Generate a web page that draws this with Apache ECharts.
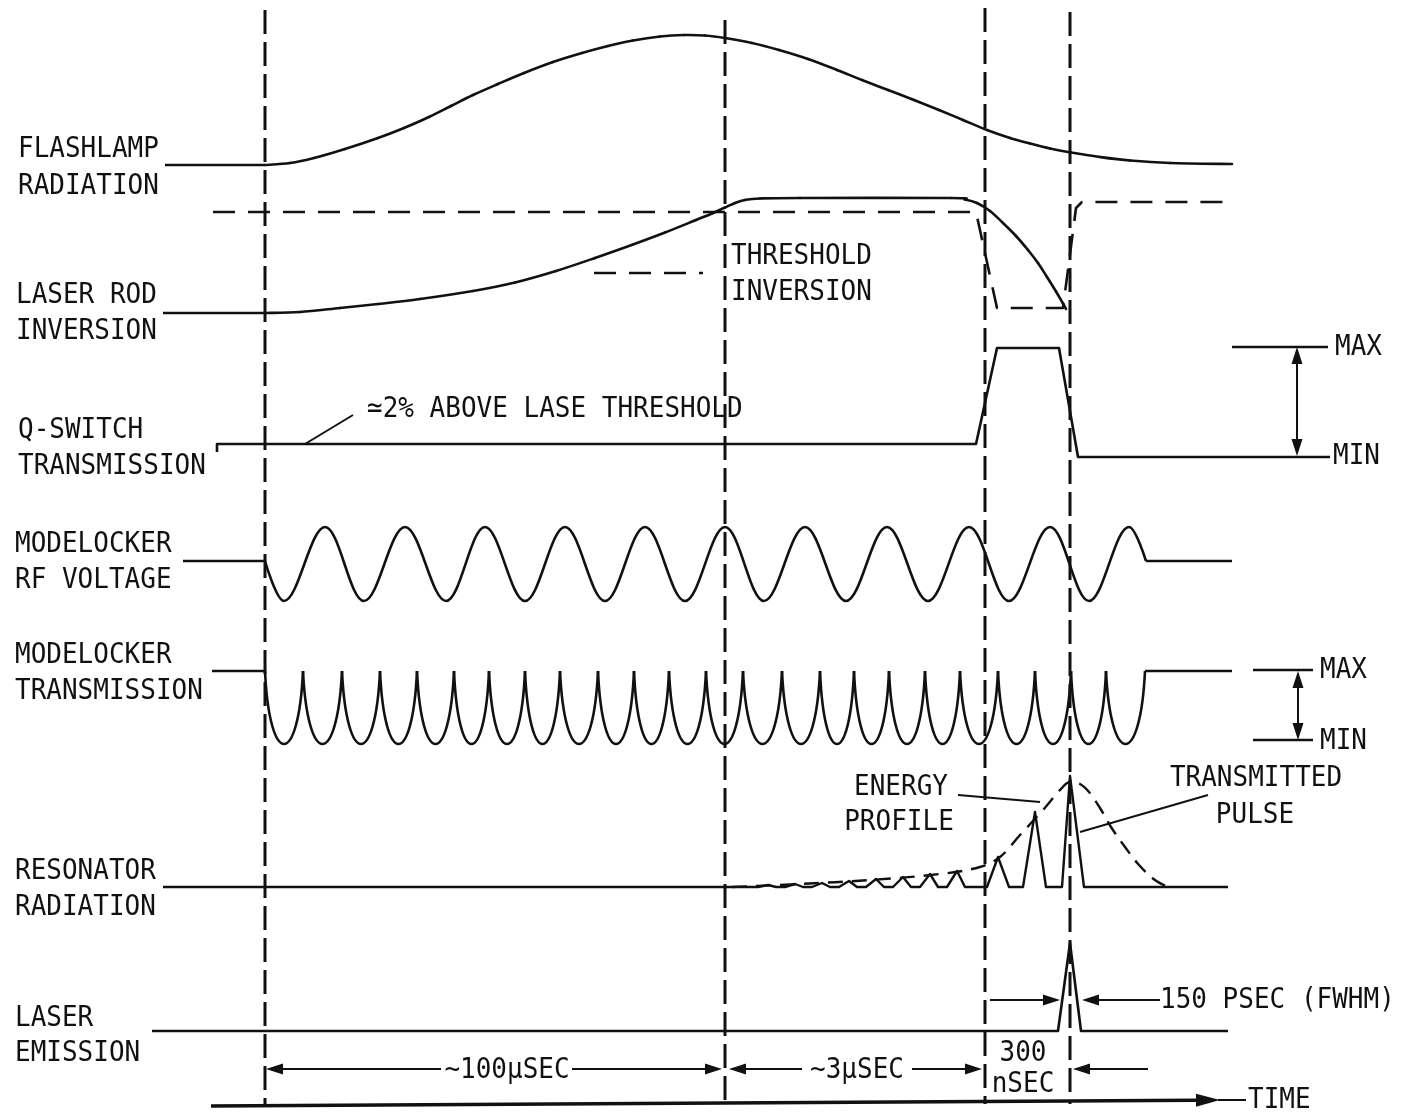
<!DOCTYPE html>
<html><head><meta charset="utf-8">
<script src="https://cdn.jsdelivr.net/npm/echarts/dist/echarts.min.js"></script>
<style>html,body{margin:0;padding:0;background:#fff}#c{width:1403px;height:1116px}</style>
</head><body><div id="c"></div>
<script>
// ===== DATA (diagram time position, signal level) =====
const markerTimes  = [265, 725, 985, 1070];
const markerTops   = [10, 20, 8, 12];
const markerBottom = 1104;

const flashlampBase = [[165,165],[265,165]];
const flashlamp = [[265,165],[290,163],[314,158],[345,149],[378,138],[404,128],[429,117],[451,106],[473,95],[498,84],[524,73],[553,62],[582,53],[608,46],[633,40.5],[660,36.5],[684,35],[705,35.5],[725,38],[752,43],[779,50],[808,59],[837,70],[862,80],[888,90],[914,100],[939,110],[963,120],[987,130],[1010,138],[1030,143.5],[1050,148.5],[1071,152.5],[1100,157],[1130,160.5],[1170,163],[1232,164]];
const laserRodBase = [[163,313],[265,313]];
const laserRod  = [[265,313],[300,312],[340,308],[378,304],[420,299],[473,291],[515,282.5],[556,271],[595,258],[633,244.5],[665,232.5],[696,220],[712,213.5],[725,207.5],[735,203],[745,200],[760,198.5],[800,198],[951,198],[965,199.5],[977,203],[990,211],[1003,223],[1016,236],[1028,250],[1038,263],[1047,277],[1056,291.5],[1063,303.5],[1066,309]];
const thresholdInversion = [[213,212],[976,212],[997,308],[1063,308],[1076,208],[1082,202],[1232,202]];
const thresholdLeader = [[594,273],[703,273]];

const qSwitch = [[217,452],[217,444],[976,444],[997,348],[1059,348],[1078,457],[1330,457]];
const qSwitchMax = [[1232,347],[1328,347]];
const qSwitchNoteLeader = [[305,444],[353,415]];

const rfBaseLeft  = [[183,561],[265,561]];
const rfBaseRight = [[1146,561],[1232,561]];
const rfStart = 265, rfEnd = 1146, rfZero = 561, rfPeak = 527, rfTrough = 601;
const rfTroughs = [284, 364, 446, 525, 605, 685, 764, 846, 928, 1009, 1089];
const rfPeaks   = [325, 405, 485, 565, 645, 725, 805, 887, 969, 1050, 1129];

const mlBaseLeft  = [[212,671],[265,671]];
const mlBaseRight = [[1145,671],[1232,671]];
const mlMax = 671, mlMin = 744;
const mlCusps = [265,303,342,380,417,454,489,525,560,598,634,669,706,743,782,820,854,889,925,960,998,1035,1071,1106,1145];
const mlMaxLine = [[1253,670],[1313,670]];
const mlMinLine = [[1253,740],[1313,740]];

const resonatorBase = 887;
const resonatorStart = 163, resonatorEnd = 1228;
const smallPulsePeaks = [[768,885],[795,884],[822,883],[849,881],[876,879],[903,877],[930,874],[957,871]];
const bigPulses = [[987,998,857,1009],[1023,1035,812,1046],[1062,1070,776,1084]]; // [start, peak time, peak level, end]
const energyProfile = [[732,887],[800,884],[870,880],[940,874],[980,867],[1000,857],[1020,835],[1043,810],[1060,790],[1070,782],[1080,784],[1089,792],[1100,808],[1111,827],[1125,847],[1139,865],[1155,880],[1168,887]];
const energyLeader = [[958,795],[1040,802]];
const transmittedLeader = [[1208,795],[1080,832]];

const laserEmission = [[152,1031],[1058,1031],[1070,943],[1081,1031],[1228,1031]];

// arrows: [fromX, fromY, toX, toY] (head at "to")
const arrows = [
  [441,1069,266,1069],[572,1069,722,1069],
  [802,1069,729,1069],[912,1069,982,1069],
  [1148,1069,1073,1069],
  [990,1000,1060,1000],[1160,1000,1082,1000],
  [1297,402,1297,347],[1297,402,1297,456],
  [1298,705,1298,671],[1298,705,1298,740]
];
const timeAxis = [211,1106,1220,1100];
const timeAxisTail = [[1218,1100],[1246,1100]];

const leftLabels = [
  [18,149,'FLASHLAMP'],[18,186,'RADIATION'],
  [16,295,'LASER ROD'],[16,331,'INVERSION'],
  [18,430,'Q-SWITCH'],[18,466,'TRANSMISSION'],
  [15,544,'MODELOCKER'],[15,580,'RF VOLTAGE'],
  [15,655,'MODELOCKER'],[15,691,'TRANSMISSION'],
  [15,871,'RESONATOR'],[15,907,'RADIATION'],
  [15,1018,'LASER'],[15,1053,'EMISSION'],
  [731,256,'THRESHOLD'],[731,292,'INVERSION'],
  [367,409,'≃2% ABOVE LASE THRESHOLD'],
  [1335,347,'MAX'],[1333,456,'MIN'],
  [1320,670,'MAX'],[1320,741,'MIN'],
  [1160,1000,'150 PSEC (FWHM)'],
  [1248,1100,'TIME']
];
const centerLabels = [
  [901,787,'ENERGY'],[899,822,'PROFILE'],
  [1256,778,'TRANSMITTED'],[1255,815,'PULSE'],
  [1023,1053,'300'],[1023,1084,'nSEC'],
  [507,1070,'~100μSEC'],[857,1070,'~3μSEC']
];

// ===== rendering =====
const INK = '#111';
const FONT_FAMILY = '"DejaVu Sans Mono", "Liberation Mono", monospace';

function poly(data, opt) {
  opt = opt || {};
  return {
    type: 'line', data: data, showSymbol: false, symbol: 'none', silent: true,
    smooth: opt.smooth || false, z: opt.z || 2, animation: false,
    lineStyle: { color: INK, width: opt.width || 2.6, type: opt.dash || 'solid', cap: 'butt', join: 'round' }
  };
}

// Catmull-Rom spline through the read points, drawn segment by segment
function spline(points, width) {
  return {
    type: 'custom', silent: true, z: 2, animation: false,
    data: points,
    renderItem: function (params, api) {
      const i = params.dataIndex;
      if (i >= points.length - 1) return null;
      const P = k => api.coord(points[Math.max(0, Math.min(points.length - 1, k))]);
      const p0 = P(i - 1), p1 = P(i), p2 = P(i + 1), p3 = P(i + 2);
      return { type: 'bezierCurve', shape: {
          x1: p1[0], y1: p1[1], x2: p2[0], y2: p2[1],
          cpx1: p1[0] + (p2[0] - p0[0]) / 6, cpy1: p1[1] + (p2[1] - p0[1]) / 6,
          cpx2: p2[0] - (p3[0] - p1[0]) / 6, cpy2: p2[1] - (p3[1] - p1[1]) / 6 },
        style: { stroke: INK, lineWidth: width || 2.6, fill: null, lineCap: 'round' } };
    }
  };
}

// RF wave: zero crossing, extremes, zero crossing
const rfWave = [[rfStart, rfZero]]
  .concat(rfTroughs.map(t => [t, rfTrough]))
  .concat(rfPeaks.map(t => [t, rfPeak]))
  .concat([[rfEnd, rfZero]])
  .sort((a, b) => a[0] - b[0]);

// resonator trace
const resonator = [[resonatorStart, resonatorBase]];
smallPulsePeaks.forEach(p => { resonator.push([p[0] - 10, resonatorBase], p, [p[0] + 8, resonatorBase]); });
bigPulses.forEach(p => { resonator.push([p[0], resonatorBase], [p[1], p[2]], [p[3], resonatorBase]); });
resonator.push([resonatorEnd, resonatorBase]);

const series = [];
markerTimes.forEach((t, i) => series.push(poly([[t, markerTops[i]], [t, markerBottom]], { dash: [24, 8], width: 3 })));
series.push(poly(flashlampBase));
series.push(spline(flashlamp));
series.push(poly(laserRodBase));
series.push(spline(laserRod));
series.push(poly(thresholdInversion, { dash: [22, 13], width: 2.6 }));
series.push(poly(thresholdLeader, { dash: [22, 13], width: 2.6 }));
series.push(poly(qSwitch));
series.push(poly(qSwitchMax));
series.push(poly(qSwitchNoteLeader, { width: 2 }));
series.push(poly(rfBaseLeft));
series.push(poly(rfBaseRight));
series.push(poly(rfWave, { smooth: 0.363 }));
series.push(poly(mlBaseLeft));
series.push(poly(mlBaseRight));
series.push(poly(mlMaxLine));
series.push(poly(mlMinLine));
series.push(poly(resonator, { width: 2.4 }));
series.push(poly(energyProfile, { smooth: 0.35, dash: [15, 9], width: 2.4 }));
series.push(poly(energyLeader, { width: 2 }));
series.push(poly(transmittedLeader, { width: 2 }));
series.push(poly(laserEmission));
series.push(poly(timeAxisTail, { width: 2 }));

// modelocker transmission arcs (U-shaped, cusp to cusp)
series.push({
  type: 'custom', silent: true, z: 3, animation: false,
  data: mlCusps.slice(0, -1).map((c, i) => [c, mlCusps[i + 1]]),
  renderItem: function (params, api) {
    const p0 = api.coord([api.value(0), mlMax]);
    const p1 = api.coord([api.value(1), mlMax]);
    const pb = api.coord([api.value(0), mlMin]);
    const w = p1[0] - p0[0], A = pb[1] - p0[1];
    return { type: 'bezierCurve', shape: {
        x1: p0[0], y1: p0[1], x2: p1[0], y2: p1[1],
        cpx1: p0[0] + 0.12 * w, cpy1: p0[1] + 1.333 * A,
        cpx2: p1[0] - 0.12 * w, cpy2: p0[1] + 1.333 * A },
      style: { stroke: INK, lineWidth: 2.6, fill: null } };
  }
});

function arrowItem(a, b, lw, hl, hw) {
  const dx = b[0] - a[0], dy = b[1] - a[1], L = Math.hypot(dx, dy), ux = dx / L, uy = dy / L;
  const base = [b[0] - ux * hl, b[1] - uy * hl];
  return [
    { type: 'line', shape: { x1: a[0], y1: a[1], x2: base[0], y2: base[1] }, style: { stroke: INK, lineWidth: lw } },
    { type: 'polygon', shape: { points: [b, [base[0] - uy * hw, base[1] + ux * hw], [base[0] + uy * hw, base[1] - ux * hw]] }, style: { fill: INK } }
  ];
}
series.push({
  type: 'custom', silent: true, z: 4, animation: false,
  data: arrows,
  renderItem: function (params, api) {
    const a = api.coord([api.value(0), api.value(1)]);
    const b = api.coord([api.value(2), api.value(3)]);
    return { type: 'group', children: arrowItem(a, b, 2, 17, 5.5) };
  }
});
series.push({
  type: 'custom', silent: true, z: 4, animation: false,
  data: [timeAxis],
  renderItem: function (params, api) {
    const a = api.coord([api.value(0), api.value(1)]);
    const b = api.coord([api.value(2), api.value(3)]);
    return { type: 'group', children: arrowItem(a, b, 3.5, 24, 6.5) };
  }
});

function textSeries(rows, align) {
  return {
    type: 'custom', silent: true, z: 6, animation: false,
    data: rows.map(r => [r[0], r[1]]),
    renderItem: function (params, api) {
      const p = api.coord([api.value(0), api.value(1)]);
      return { type: 'text', x: p[0], y: p[1], scaleY: 1.12,
        style: { text: rows[params.dataIndex][2], fontSize: 26, fontFamily: FONT_FAMILY,
          fill: INK, align: align, verticalAlign: 'middle' } };
    }
  };
}
series.push(textSeries(leftLabels, 'left'));
series.push(textSeries(centerLabels, 'center'));

const chart = echarts.init(document.getElementById('c'), null, { renderer: 'canvas', width: 1403, height: 1116 });
chart.setOption({
  animation: false,
  backgroundColor: '#fff',
  grid: { left: 0, right: 0, top: 0, bottom: 0 },
  xAxis: { type: 'value', min: 0, max: 1403, show: false },
  yAxis: { type: 'value', min: 0, max: 1116, inverse: true, show: false },
  series: series
});
</script>
</body></html>
